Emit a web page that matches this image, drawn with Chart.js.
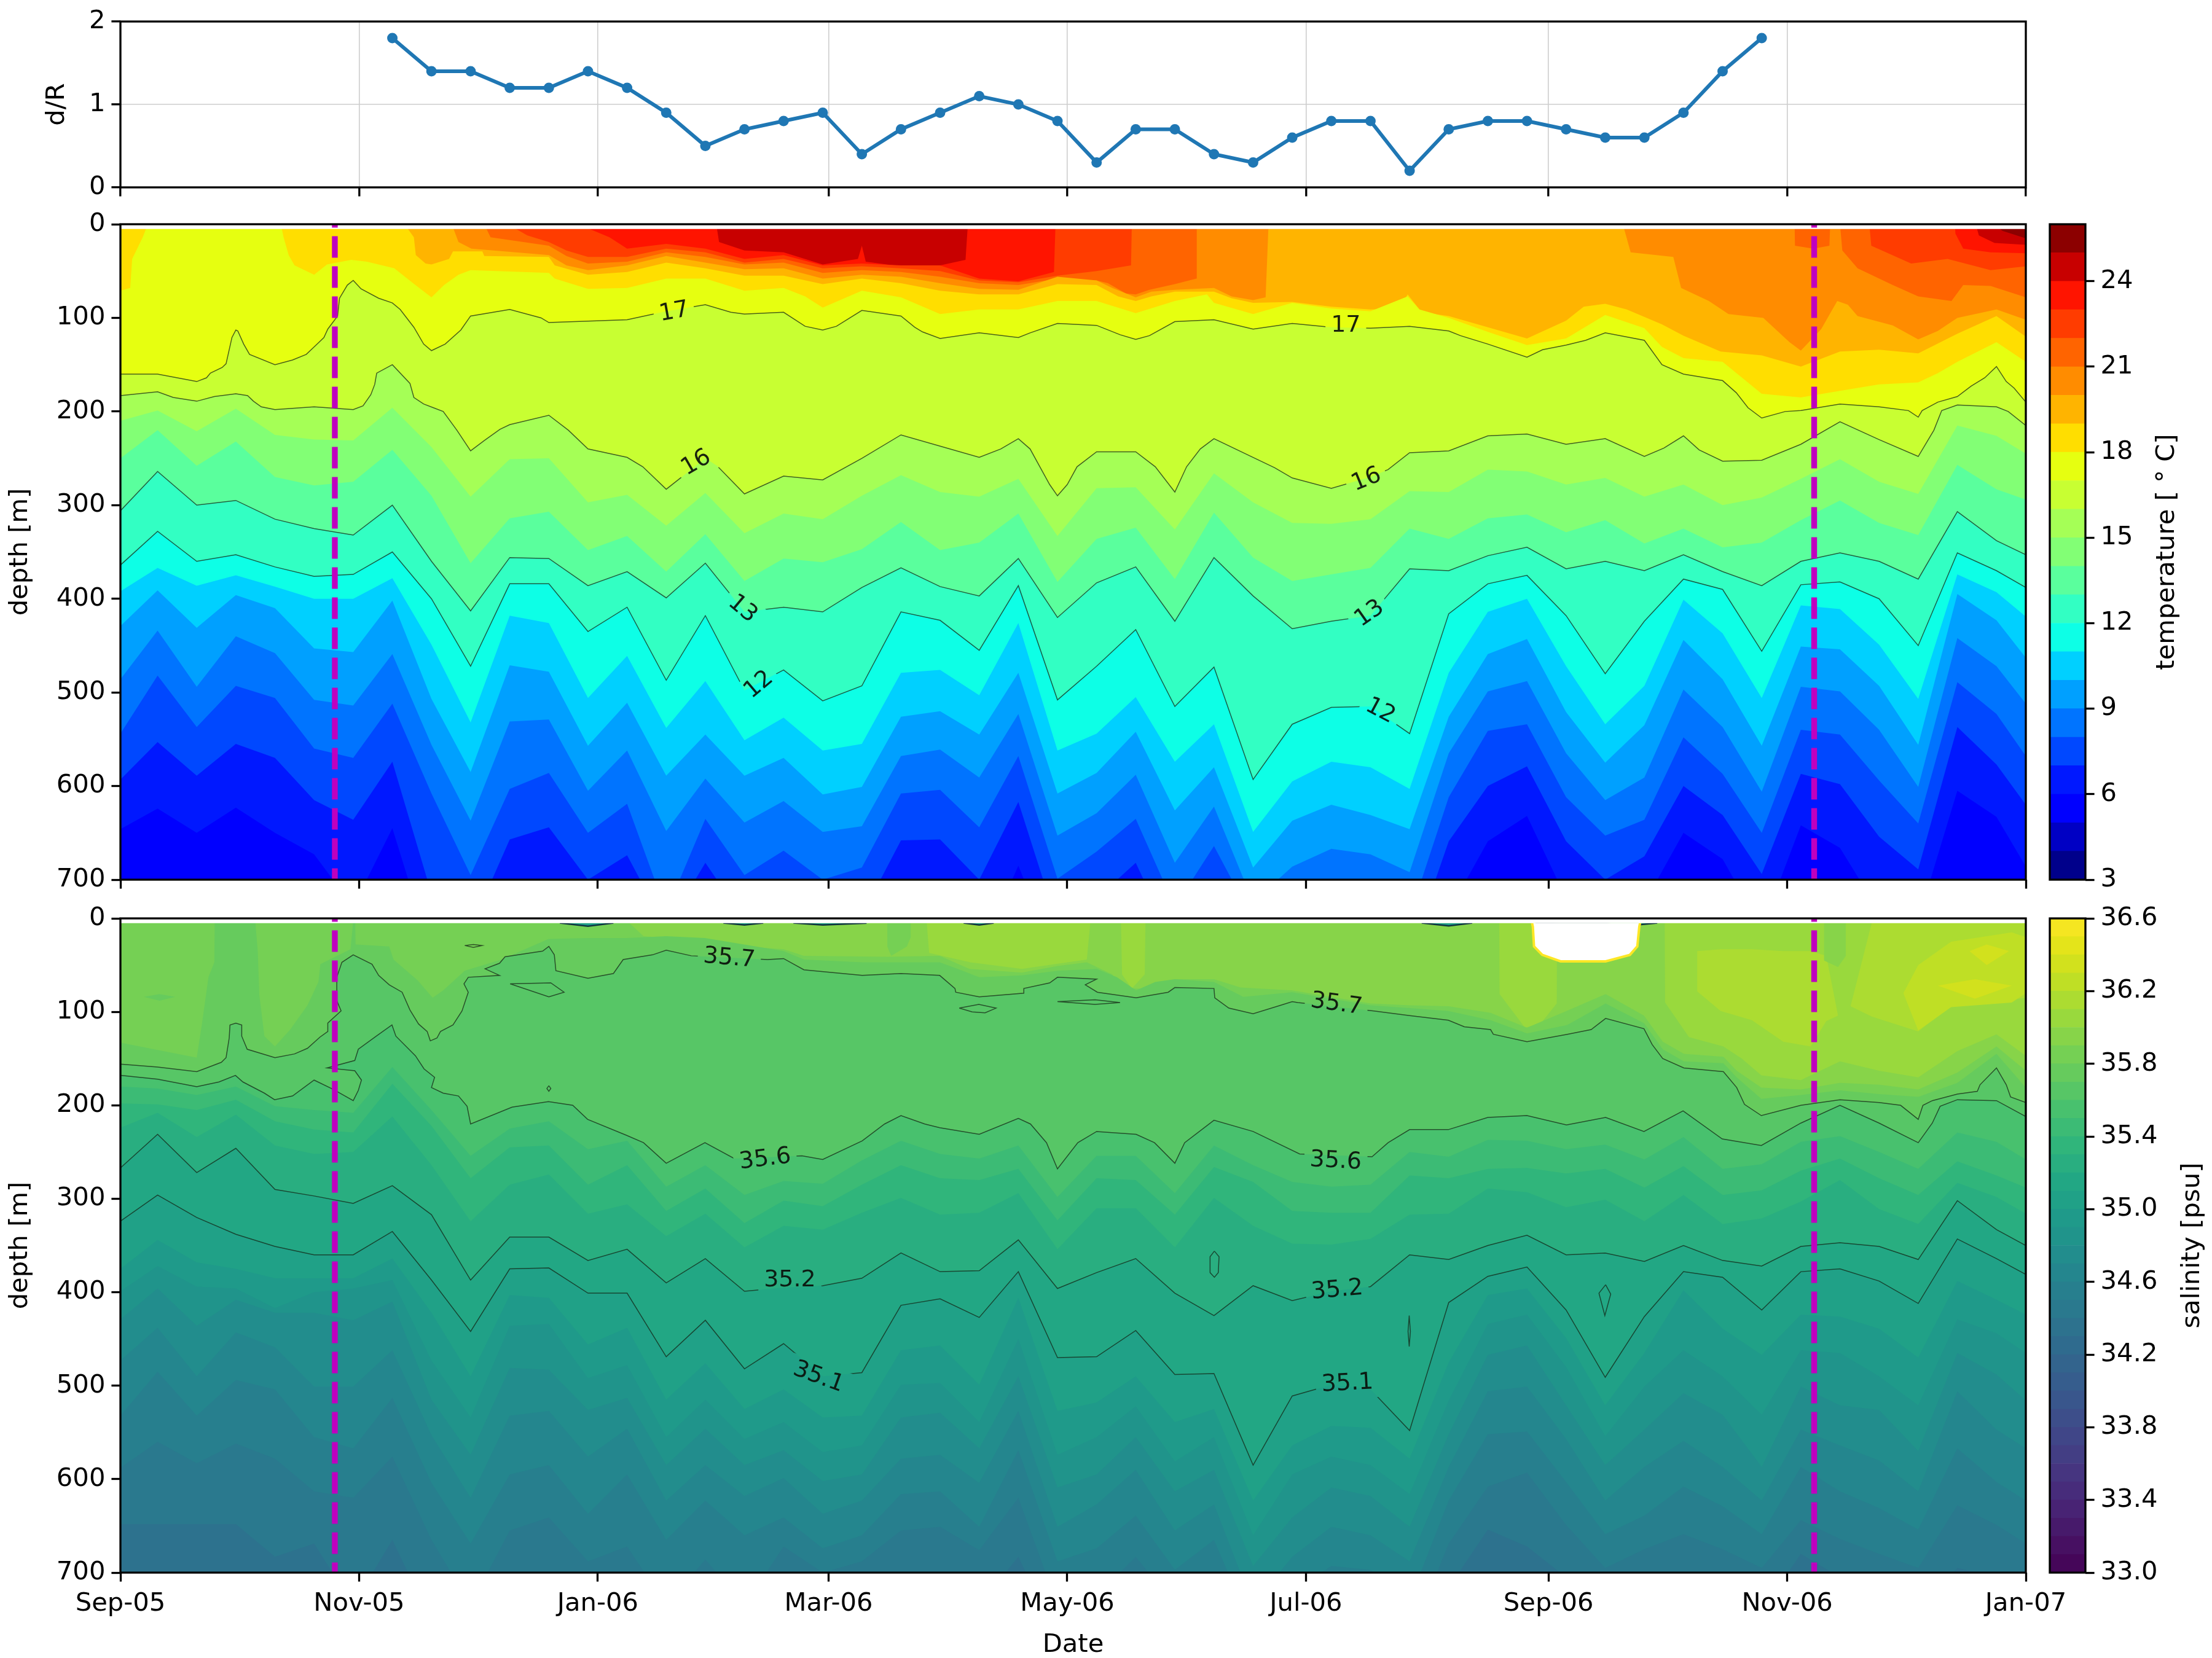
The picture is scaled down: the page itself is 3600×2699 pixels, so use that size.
<!DOCTYPE html>
<html>
<head>
<meta charset="utf-8">
<title>d/R, temperature and salinity sections</title>
<script src="https://cdn.jsdelivr.net/npm/chart.js@4/dist/chart.umd.min.js"></script>
<style>
  html, body { margin: 0; background: #fff; }
  #page { position: relative; width: 3600px; height: 2699px; overflow: hidden; }
  canvas { position: absolute; }
</style>
</head>
<body>
<div id="page">
  <canvas id="drChart" width="3420" height="350" style="left:0px;top:0px"></canvas>
  <canvas id="tempChart" width="3420" height="1150" style="left:0px;top:330px"></canvas>
  <canvas id="salChart" width="3420" height="1243" style="left:0px;top:1460px"></canvas>
  <canvas id="tempBar" width="300" height="1150" style="left:3300px;top:330px"></canvas>
  <canvas id="salBar" width="300" height="1239" style="left:3300px;top:1460px"></canvas>
</div>
<script>
// axis labels, x is days since 1 Sep 2005
const monthDays = [0, 61, 122, 181, 242, 303, 365, 426, 487];
const monthLabels = ['Sep-05', 'Nov-05', 'Jan-06', 'Mar-06', 'May-06', 'Jul-06', 'Sep-06', 'Nov-06', 'Jan-07'];
const markerDays = [54.8, 432.9];
const tempTicks = [3, 6, 9, 12, 15, 18, 21, 24];
const salTicks = [33.0, 33.4, 33.8, 34.2, 34.6, 35.0, 35.4, 35.8, 36.2, 36.6];

// d/R
const drDays = [69.5, 79.5, 89.5, 99.5, 109.5, 119.5, 129.5, 139.5, 149.5, 159.5, 169.5, 179.5, 189.5, 199.5, 209.5, 219.5, 229.5, 239.5, 249.5, 259.5, 269.5, 279.5, 289.5, 299.5, 309.5, 319.5, 329.5, 339.5, 349.5, 359.5, 369.5, 379.5, 389.5, 399.5, 409.5, 419.5];
const drValues = [1.8, 1.4, 1.4, 1.2, 1.2, 1.4, 1.2, 0.9, 0.5, 0.7, 0.8, 0.9, 0.4, 0.7, 0.9, 1.1, 1.0, 0.8, 0.3, 0.7, 0.7, 0.4, 0.3, 0.6, 0.8, 0.8, 0.2, 0.7, 0.8, 0.8, 0.7, 0.6, 0.6, 0.9, 1.4, 1.8];

// profile columns shared by the deep isolines
const columnDays = [0, 9.5, 19.5, 29.5, 39.5, 49.5, 59.5, 69.5, 79.5, 89.5, 99.5, 109.5, 119.5, 129.5, 139.5, 149.5, 159.5, 169.5, 179.5, 189.5, 199.5, 209.5, 219.5, 229.5, 239.5, 249.5, 259.5, 269.5, 279.5, 289.5, 299.5, 309.5, 319.5, 329.5, 339.5, 349.5, 359.5, 369.5, 379.5, 389.5, 399.5, 409.5, 419.5, 429.5, 439.5, 449.5, 459.5, 469.5, 479.5, 487];

// temperature: depth [m] of each isotherm
const temp6 = [646,624,650,623,650,673,729,645,780,830,800,790,830,800,840,810,830,800,820,800,745,745,780,685,790,780,740,830,780,850,840,830,830,840,734,659,632,720,752,725,650,678,752,642,666,734,743,605,633,686];
const temp7 = [593,553,589,555,570,615,636,574,715,752,657,644,700,674,752,682,743,729,752,738,658,657,700,617,748,720,682,771,724,790,780,766,771,780,659,600,579,659,700,675,600,631,694,587,598,654,689,537,577,620];
const temp8 = [544,482,537,493,506,560,570,512,608,695,603,586,650,619,734,635,695,669,700,687,608,604,644,568,699,670,635,729,664,743,729,715,722,739,612,541,534,612,653,636,548,587,650,540,545,594,640,489,523,568];
const temp9 = [486,434,494,440,458,508,514,459,556,637,531,529,605,562,648,592,639,616,649,643,568,561,591,523,653,629,588,682,622,724,686,667,673,692,565,499,488,565,615,591,497,537,606,494,499,540,601,442,472,512];
const temp10 = [429,391,431,396,410,453,457,402,507,585,471,478,557,511,589,545,589,570,609,601,526,520,545,479,608,586,542,626,580,687,637,620,631,646,526,459,443,521,575,535,444,486,557,451,454,493,556,395,423,463];
const temp11 = [392,367,386,375,387,400,400,378,449,532,418,426,506,461,538,488,551,527,562,555,479,476,503,426,562,544,505,574,534,649,595,574,580,603,479,414,400,472,534,493,401,437,506,407,411,449,507,374,393,419];
const temp12 = [364,328,360,353,366,376,374,350,400,472,384,384,435,409,487,418,498,476,509,493,414,423,455,386,508,472,433,515,473,593,534,516,515,544,416,384,375,418,480,424,379,390,456,385,382,400,450,351,370,388];
const temp13 = [306,264,300,295,315,325,332,300,360,413,356,357,386,371,399,362,414,409,414,388,367,387,397,357,420,383,366,424,356,397,432,424,418,368,370,354,345,368,360,370,353,371,386,360,351,360,379,307,338,353];
const temp14 = [250,220,258,232,270,279,275,241,290,362,314,307,348,333,371,331,381,357,361,347,318,348,340,309,382,336,324,379,308,356,381,374,367,325,336,314,310,329,316,341,325,345,340,316,295,319,332,257,283,294];
const temp15 = [210,199,221,197,225,230,231,196,238,291,251,250,297,289,322,287,330,309,315,290,268,286,291,272,333,282,281,326,266,297,319,320,315,285,286,262,264,278,271,291,278,300,292,272,251,275,288,215,226,245];

const temp16Days = [0,9.5,13.5,19.5,24,29.5,32.5,34,36,39.5,49.5,59.5,62,64,65,65.5,69.5,74,75,77.5,80,82.5,86,89.5,93,97,99.5,109.5,114.5,119.5,129.5,133.5,139.5,149.5,152.5,159.5,169.5,179.5,189.5,199.5,209.5,219.5,225,229.5,232.5,235,237.5,239.5,242,244.5,249.5,259.5,264.5,269.5,272.5,276,279.5,289.5,295,299.5,309.5,319.5,324,329.5,339.5,349.5,359.5,369.5,379.5,389.5,394.5,399.5,403.5,409.5,419.5,429.5,439.5,449.5,459.5,463.5,465.5,469.5,479.5,482.5,487];
const temp16Depth = [183,179,185,189,184,181,183,189,195,198,195,198,194,182,171,159,150,170,185,192,196,200,220,242,231,219,214,204,220,240,249,259,283,250,258,288,269,273,250,225,237,249,240,229,240,259,278,290,278,259,243,243,259,286,259,240,229,249,260,271,282,270,262,244,242,226,224,235,229,248,239,226,241,253,252,235,211,230,248,220,199,193,195,200,215];

const temp17Days = [0,9.5,19.5,22,23,26,27,28.5,29.5,30,31.5,33,39.5,44,47.5,49.5,52,53,55.5,56,58,59.5,61.5,66,69.5,71.5,75,77.5,79.5,83,87,89.5,99.5,107.5,109.5,129.5,139.5,149.5,156,159.5,169.5,175,179.5,183,189.5,199.5,203,205,209.5,219.5,229.5,232.5,239.5,249.5,255.5,259.5,263,269.5,279.5,289.5,299.5,309.5,319.5,329.5,339.5,342.5,349.5,359.5,363.5,369.5,374.5,379.5,389.5,394,399.5,409.5,413,416,419.5,425.5,429.5,439.5,449.5,457,459.5,460.5,464.5,469.5,473,476.5,479.5,482,484,487];
const temp17Depth = [160,160,168,164,159,153,149,121,113,114,128,139,150,145,139,131,121,112,98,79,65,60,69,79,84,91,110,128,135,128,113,98,91,100,105,102,93,86,94,96,94,109,113,109,92,98,110,115,122,116,121,116,106,108,118,123,119,104,102,112,106,110,111,109,114,119,128,142,134,129,124,116,124,150,160,167,180,196,207,200,199,192,195,199,206,199,190,184,173,164,152,168,175,190];

const temp18Days = [0,2.5,3,5.7,7,41,41.7,43,44.5,49.5,52.8,59,63,70,75.4,79.5,82.7,86.4,89.5,109.5,111,119.5,129.5,139.5,149.5,159.5,169.5,175,179.5,189.5,199.5,209.5,219.5,229.5,239.5,249.5,259.5,269.5,277.7,279.5,289.5,299.5,309.5,319.5,329,332,339.5,349.5,359.5,369.5,379.5,389.5,394,399.5,409.5,419.5,429.5,439.5,449.5,459.5,464.5,469.5,479.5,487];
const temp18Depth = [71,68,37,14,0,0,14,33,44,54,43,38,40,47,65,78,65,54,49,52,58,69,68,58,58,71,68,77,89,71,78,96,91,91,82,82,95,82,75,84,96,84,90,93,77,91,100,115,129,122,97,111,131,143,147,181,185,178,171,169,159,147,126,147];

const temp19Days = [0,72.6,75,75.5,78,79.5,84,85,92.5,93,109.5,111,119.5,129.5,139.5,149.5,159.5,169.5,179.5,189.5,199.5,209.5,219.5,229.5,239.5,249.5,255,259.5,263.5,269.5,279.5,284,289.5,299.5,309.5,319.5,327,329,332.6,339.5,349.5,359.5,369.5,374,379.5,385,394,399.5,409,419.5,429.5,439.5,449.5,459.5,469.5,479.5,487];
const temp19Depth = [0,0,14,33,42,43,37,29,29,34,35,44,54,51,41,47,55,55,64,58,63,71,75,75,64,65,77,82,77,72,72,79,84,83,88,91,90,75,94,98,110,122,103,88,85,91,107,119,136,140,152,136,134,138,117,98,120];

const temp20Days = [0,84.7,86.4,89.7,109.5,114,119.5,129.5,139.5,149.5,159.5,169.5,179.5,189.5,199.5,209.5,219.5,229.5,239.5,249.5,253.5,259.5,263.5,269.5,279.5,284,289.5,292.7,293.4,293.5,384,386,396.9,398.9,406,411,419.9,426.6,429.5,434.7,438.8,441.5,444,453,459.5,464.5,469.5,479.5,487];
const temp20Depth = [0,0,19,26,33,44,49,44,34,41,48,47,58,54,56,63,69,70,56,60,68,78,72,70,68,77,81,78,5,0,0,30,35,68,82,96,100,126,135,112,82,86,98,108,123,114,100,91,102];

const temp21Days = [0,93,94.6,109.5,114,119.5,129.5,139.5,149.5,159.5,169.5,179.5,189.5,199.5,209.5,219.5,229.5,239.5,249.5,252.4,257,259.5,263,269.5,275,275.1,427.9,428,432.7,436.8,437,439.5,440.1,444,453,459.5,468,471,478,487];
const temp21Depth = [0,0,14,23,34,42,40,30,35,43,41,52,49,51,56,63,65,58,60,63,74,75,70,64,58,0,0,23,26,23,0,0,28,47,65,77,82,65,66,78];

const temp22Days = [0,99,104,109.5,114,119.5,129.5,139.5,149.5,159.5,169.5,179.5,189.5,199.5,209.5,219.5,229.5,239.5,249.5,258.3,258.5,447,447.5,457.7,467,478,487];
const temp22Depth = [0,0,12,19,28,35,35,26,30,41,37,47,45,47,50,60,62,55,50,44,0,0,23,42,37,49,45];

const temp23Days = [0,117,125,129.5,139.5,149.5,159.5,169.5,179.5,189.5,199.5,209.5,219.5,229.5,238.6,239,468.9,469,471,478,487];
const temp23Depth = [0,0,14,26,21,26,37,33,44,42,44,44,58,61,51,0,0,10,26,30,31];

const temp24Days = [0,152.3,153,159.5,169.5,179.5,188.5,189.5,190.5,199.5,209.5,216,216.6,474.2,475,479,487];
const temp24Depth = [0,0,19,28,30,43,37,23,40,45,44,38,0,0,12,20,22];

const temp25Days = [0,479,481,487];
const temp25Depth = [0,0,7,15];

// temperature contour labels
const tempLabelText = ['17', '16', '13', '12', '17', '16', '13', '12'];
const tempLabelDay = [141.5, 147.2, 159, 163.2, 313.2, 318.5, 319.3, 322];
const tempLabelDepth = [94, 255, 411, 492, 108, 273, 416, 520];
const tempLabelAngle = [-10, -30, 40, -40, 0, -22, -35, 28];

// salinity: depth [m] of each isohaline
const sal344 = [648,648,648,648,683,669,735,665,753,781,735,716,744,735,772,739,772,735,753,744,725,721,735,683,772,758,735,781,753,819,795,781,786,805,716,654,672,705,736,726,705,726,741,680,705,731,741,695,705,716];
const sal345 = [588,560,583,562,578,613,620,576,665,735,655,641,688,672,735,686,735,672,700,688,655,651,676,620,735,725,683,735,716,791,763,744,753,772,669,608,593,649,695,675,659,675,695,644,664,680,695,628,649,669];
const sal346 = [532,485,532,494,504,555,567,513,604,669,595,585,637,595,665,623,660,641,674,660,616,613,651,569,688,674,639,697,665,763,721,693,697,730,623,552,549,603,659,639,608,629,659,587,613,631,654,567,603,623];
const sal347 = [473,438,490,443,459,501,501,462,553,620,532,527,576,546,623,585,618,599,637,623,578,574,604,527,651,627,590,655,627,735,683,651,660,688,587,506,501,557,623,587,559,587,623,547,564,580,613,506,547,567];
const sal348 = [429,396,436,408,422,422,430,410,515,574,481,483,526,513,585,546,585,569,602,595,534,529,567,490,609,595,555,613,590,693,641,609,618,651,552,467,457,521,585,547,508,531,587,501,521,526,570,465,488,516];
const sal349 = [399,372,394,396,417,400,396,387,473,534,436,434,492,478,555,515,557,539,571,564,499,497,539,450,574,555,522,581,555,660,595,576,585,616,516,434,424,480,554,501,462,490,531,462,465,490,521,429,444,465];
const sal350 = [375,344,368,375,385,385,385,364,422,490,403,406,456,438,515,476,525,504,534,532,462,457,499,406,527,518,490,539,525,623,564,543,545,578,475,403,396,449,521,465,398,439,467,424,426,439,470,388,408,424];
const sal351 = [324,296,320,338,351,360,360,335,387,442,375,374,401,401,469,430,482,455,490,486,414,407,427,378,470,469,441,488,487,585,511,499,504,548,411,383,373,419,491,426,378,384,419,378,375,388,412,343,364,381];
const sal352 = [267,231,272,246,290,297,305,286,317,387,341,341,366,354,390,364,399,395,393,385,358,378,377,344,396,379,364,401,425,393,409,399,394,360,365,350,339,360,358,367,350,366,372,351,347,351,365,302,333,350];
const sal353 = [224,208,234,210,243,252,250,212,264,324,285,274,316,306,340,316,352,329,333,315,299,317,315,294,354,310,310,352,299,329,348,349,343,317,316,289,293,309,301,324,296,327,321,303,280,311,327,283,298,316];
const sal354 = [198,199,205,194,217,226,229,177,222,278,245,243,285,264,313,289,326,302,308,285,264,278,280,268,323,278,280,317,266,282,313,315,315,275,278,268,267,273,268,288,265,296,291,270,257,278,296,260,275,288];
const sal355 = [180,182,189,180,201,205,208,159,205,254,225,217,247,238,287,264,296,281,284,259,238,252,257,243,298,254,254,294,243,264,282,287,285,250,255,237,238,247,242,258,234,268,263,239,233,250,268,229,239,258];

const sal356Days = [0,9.5,19.5,25.2,29.4,31.3,36.8,39.4,44,49.5,54.4,59.5,60.8,61.6,59.9,52.8,59.9,60.8,65.4,69.4,70.4,75.4,77.6,80.3,79.5,82.5,86.4,88.6,89.5,100.1,109.4,115.6,119.4,129.3,133.7,139.5,149.4,156.9,174.2,179.5,189.6,195.3,199.5,205.6,209.4,219.5,229.5,232.6,236.7,239.5,244.7,249.5,259.6,264.3,269.5,272,279.5,289.5,301.4,319.9,324,329.5,339.4,349.5,359.5,369.6,379.6,389.4,399.4,409.4,419.4,429.5,439.5,449.5,459.5,463.1,465.1,469.5,479.5,487];
const sal356Depth = [168,172,180,175,168,175,187,194,190,173,183,195,184,173,163,160,152,140,126,114,126,147,161,170,181,187,190,201,220,202,196,200,215,232,240,262,240,257,254,258,238,220,211,220,224,231,214,220,240,268,240,228,231,240,262,240,216,228,252,255,240,226,226,213,211,221,213,228,206,236,243,219,200,219,240,219,201,194,195,212];

const sal357Days = [0,9.5,19.5,22,25.8,27,27.8,28,29.5,31,31,32.4,39.5,44.5,47.8,51,53,53,56.4,55.3,55.3,56.6,59.5,64.3,66,68.7,72,74,76.2,78.4,79.2,80.9,81.8,85,87.3,88.9,87.8,88.9,96.9,93.2,96.9,98.3,107.9,109.5,110.9,111.3,119.5,126,128.5,136,139.5,145.9,165.4,169.5,174.7,189.6,199.5,209.4,213.3,213.5,219.5,230.9,230.9,237.5,239.5,249.5,246.6,249.7,259.6,267.8,269.5,279.5,279.7,283.3,289.5,296.5,299.5,300.9,320.4,329.5,339.4,343.5,350.2,350.9,359.5,369.8,375.9,379.6,389.4,391.5,394.2,399.6,409.7,413.1,415.1,419.4,429.5,439.5,449.5,455,459.5,460.7,463.1,469.5,474.6,475.3,479.5,482,483.1,487];
const sal357Depth = [156,159,164,160,154,149,128,114,112,114,126,140,149,145,139,127,121,112,99,88,63,47,39,49,61,71,79,98,113,121,131,128,121,114,99,79,70,63,61,54,48,41,35,30,39,56,64,59,44,39,34,40,44,43,55,61,59,61,75,79,84,80,75,69,63,65,71,79,85,79,74,75,85,96,102,93,89,90,99,104,109,116,119,124,132,124,119,107,118,135,150,160,164,181,199,211,200,194,197,200,215,200,195,188,185,178,160,178,191,197];

const sal358Days = [0,19.5,20.8,22.5,24,24.1,34.4,35.1,35.5,36.8,39.5,43.4,47.8,50.6,51.1,58.8,59.4,59.6,60,60.1,68.7,69.8,75.9,79.8,82.5,88,97.4,109.4,119.4,129.4,139.5,149.4,159.4,169.5,174.7,189.6,209.4,214,219.5,230.4,239.5,249.5,254.7,259.6,264.5,269.5,279.5,287,299.5,319.5,329.5,339.4,350.2,359.5,369.8,379.6,389.4,394.2,399.6,409.7,413.1,419.4,429.5,439.5,449.5,459.5,469.5,479.5,487];
const sal358Depth = [133,149,114,63,47,0,0,35,82,126,137,119,93,68,49,33,7,0,0,28,30,44,66,85,77,56,44,22,21,21,19,21,28,35,44,47,47,54,63,61,56,54,63,77,68,65,68,84,79,93,96,99,109,123,114,91,112,140,153,155,170,193,189,184,188,191,176,145,181];

const sal359Days = [0,128.8,133.7,139.5,149.4,159.4,169.5,174.7,196.2,209.4,217,230.4,239.5,247,253.5,256.3,261.8,269.5,279.5,286.3,299.5,319.5,329.5,339.4,350.2,359.5,369.6,379.6,389.4,394.2,399.6,409.7,413.1,419.4,429.5,439.5,449.5,459.5,469.5,479.5,487];
const sal359Depth = [0,0,19,21,26,30,33,40,41,40,54,58,51,47,60,75,75,65,65,74,77,91,93,94,101,117,99,81,104,132,145,148,163,181,183,176,178,183,165,137,163];

const sal360Days = [0,206,206.7,217.2,230.4,247,248,255.7,256,258.5,261.8,262,352.4,352.5,359,363.1,367.1,367.2,394.7,394.8,400.9,409.7,414.4,419.4,429.5,439.5,449.5,459.5,469.5,479.5,487];
const sal360Depth = [0,0,37,47,54,44,0,0,60,75,60,0,0,81,117,112,91,0,0,90,127,137,150,168,173,153,163,170,142,124,147];

// patches near the surface: level of the colour band, days, top and bottom depth
const patchA = { band: 36.1, days: [403, 409, 417, 425, 432, 436, 439], top: [35, 33, 33, 35, 35, 40, 104], bottom: [78, 99, 109, 132, 137, 110, 104] };
const patchB = { band: 36.1, days: [442.2, 447.6, 459.5, 469.5, 479.5, 487], top: [94, 5, 5, 5, 5, 5], bottom: [94, 105, 121, 89, 89, 85] };
const patchC = { band: 36.2, days: [455.7, 459.5, 467.9, 483.4, 487], top: [80, 50, 25, 15, 20], bottom: [80, 120, 95, 90, 80] };
const patchD = { band: 36.3, days: [472.6, 477, 482.7], top: [35, 28, 35], bottom: [35, 50, 35] };
const patchE = { band: 36.3, days: [464.5, 474, 483.4], top: [72, 65, 72], bottom: [72, 86, 72] };
const patchF = { band: 35.7, days: [6, 10, 14], top: [84, 81, 84], bottom: [84, 88, 84] };
const patchG = { band: 35.8, days: [196, 197, 201, 202], top: [5, 5, 5, 5], bottom: [30, 40, 30, 20] };
const patchH = { band: 35.9, days: [435.4, 439, 441], top: [5, 5, 5], bottom: [45, 52, 40] };

// thin fresher lenses at the surface
const lensA = { days: [112.3, 119.5, 126], bottom: [5, 8.4, 5] };
const lensB = { days: [154.1, 159.5, 164.3], bottom: [5, 7, 5] };
const lensC = { days: [172, 179.5, 190.7], bottom: [5, 7, 5] };
const lensD = { days: [215.5, 219.5, 223.2], bottom: [5, 7, 5] };
const lensE = { days: [332.6, 339.5, 345.5], bottom: [5, 8, 5] };
const lensF = { days: [361.7, 368, 380, 385, 392.8], bottom: [5, 5.5, 5.5, 8, 5] };

// closed contours
const islandA = { days: [99.6, 110, 113.4, 109.5, 99.6], depth: [70, 69, 79, 84, 70] };
const islandB = { days: [88, 90.2, 92.4, 90.2, 88], depth: [29, 28, 29, 31, 29] };
const islandC = { days: [109.5, 110, 109.5, 109, 109.5], depth: [179, 182, 185, 182, 179] };
const islandD = { days: [214.4, 219.4, 223.8, 221, 217.7, 214.4], depth: [96, 92, 96, 101, 100, 96] };
const islandE = { days: [239.5, 249.1, 255.5, 249.1, 239.5], depth: [89, 87, 90, 92, 89] };
const islandF = { days: [279.6, 280.8, 280.6, 279.6, 278.5, 278.5, 279.6], depth: [356, 362, 379, 384, 379, 362, 356] };
const islandG = { days: [379.6, 380.9, 379.4, 377.9, 379.6], depth: [392, 402, 425, 401, 392] };
const islandH = { days: [329.4, 329.7, 329.4, 329.1, 329.4], depth: [425, 442, 458, 442, 425] };

// no-data hole in the salinity field
const holeDays = [360.8, 361, 361.3, 363.4, 368.1, 379.6, 385.8, 387.7, 388.2, 388.4];
const holeDepth = [5, 9, 30, 39, 46, 46, 39, 30, 9, 5];

// salinity contour labels
const salLabelText = ['35.7', '35.6', '35.7', '35.6', '35.2', '35.2', '35.1', '35.1'];
const salLabelDay = [155.6, 164.8, 310.8, 310.6, 171.1, 311, 178.4, 313.6];
const salLabelDepth = [43, 258, 92, 260, 387, 398, 491, 498];
const salLabelAngle = [5, -7, 8, 3, 0, -5, 20, -3];

// colours of the 1 degree bands, 3-4 up to 25-26
const jetBands = ['#00008b', '#0000c4', '#0000ff', '#0018ff', '#0048ff', '#0074ff', '#00a0ff', '#00d0ff', '#0dffe6', '#32ffc3', '#5aff9d', '#82ff75', '#a5ff56', '#c8ff32', '#e6ff10', '#ffde00', '#ffb400', '#ff8c00', '#ff6400', '#ff3c00', '#ff1400', '#c80000', '#8c0000'];
const viridisStops = ['#440154', '#471365', '#482475', '#463480', '#414487', '#3b528b', '#355f8d', '#2f6c8e', '#2a788e', '#25848e', '#21918c', '#1e9c89', '#22a884', '#2fb47c', '#44bf70', '#5ec962', '#7ad151', '#9bd93c', '#bddf26', '#dfe318', '#fde725'];

const FONT = 'DejaVu Sans';
const LINE_W = 3.3;
const CONTOUR_COLOR = 'rgba(20,35,20,0.72)';
Chart.defaults.font.family = FONT;
Chart.defaults.font.size = 41.7;
Chart.defaults.color = '#000';

function hex(c) {
  return [1, 3, 5].map(i => parseInt(c.slice(i, i + 2), 16));
}
// viridis colour of the band starting at salinity s
function salColor(s) {
  const t = (Math.round((s - 33) * 10) + 0.5) / 36 * (viridisStops.length - 1);
  const i = Math.min(Math.floor(t), viridisStops.length - 2);
  const a = hex(viridisStops[i]), b = hex(viridisStops[i + 1]);
  const m = a.map((v, k) => Math.round(v + (b[k] - v) * (t - i)));
  return `rgb(${m[0]},${m[1]},${m[2]})`;
}
const tempColor = t => jetBands[t - 3];

const pts = (xs, ys) => xs.map((x, i) => ({ x, y: ys[i] }));
const band = (days, depth, color) => ({ data: pts(days, depth), borderWidth: 0, pointRadius: 0, fill: { value: 700 }, backgroundColor: color });
const contour = (days, depth) => ({ data: pts(days, depth), contour: true, borderColor: CONTOUR_COLOR, borderWidth: 1.5, pointRadius: 0, fill: false });
const dashed = day => ({ data: pts([day, day], [0, 700]), borderColor: '#bf00bf', borderWidth: 9.4, borderDash: [35, 14], borderDashOffset: 29.5, pointRadius: 0, fill: false });
const topStrip = () => ({ data: pts([0, 487], [5, 5]), borderWidth: 0, pointRadius: 0, fill: { value: 0 }, backgroundColor: '#fff' });
const island = p => ({ data: pts(p.days, p.depth), borderColor: CONTOUR_COLOR, borderWidth: 1.5, pointRadius: 0, fill: false });

// painter order: what is pushed first ends up underneath
function temperatureLayers() {
  const flat = columnDays.map(() => 0);
  const layers = [
    band(columnDays, flat, tempColor(25)),
    band(temp25Days, temp25Depth, tempColor(24)),
    band(temp24Days, temp24Depth, tempColor(23)),
    band(temp23Days, temp23Depth, tempColor(22)),
    band(temp22Days, temp22Depth, tempColor(21)),
    band(temp21Days, temp21Depth, tempColor(20)),
    band(temp20Days, temp20Depth, tempColor(19)),
    band(temp19Days, temp19Depth, tempColor(18)),
    band(temp18Days, temp18Depth, tempColor(17)),
    band(temp17Days, temp17Depth, tempColor(16)),
    band(temp16Days, temp16Depth, tempColor(15)),
    band(columnDays, temp15, tempColor(14)),
    band(columnDays, temp14, tempColor(13)),
    band(columnDays, temp13, tempColor(12)),
    band(columnDays, temp12, tempColor(11)),
    band(columnDays, temp11, tempColor(10)),
    band(columnDays, temp10, tempColor(9)),
    band(columnDays, temp9, tempColor(8)),
    band(columnDays, temp8, tempColor(7)),
    band(columnDays, temp7, tempColor(6)),
    band(columnDays, temp6, tempColor(5)),
    contour(temp17Days, temp17Depth),
    contour(temp16Days, temp16Depth),
    contour(columnDays, temp13),
    contour(columnDays, temp12),
    topStrip(),
    dashed(markerDays[0]),
    dashed(markerDays[1])
  ];
  return layers.reverse();
}

function salinityLayers() {
  const flat = columnDays.map(() => 0);
  const layers = [
    band(columnDays, flat, salColor(36.0)),
    band(sal360Days, sal360Depth, salColor(35.9)),
    band(sal359Days, sal359Depth, salColor(35.8)),
    band(sal358Days, sal358Depth, salColor(35.7)),
    band(sal357Days, sal357Depth, salColor(35.6)),
    band(sal356Days, sal356Depth, salColor(35.5)),
    band(columnDays, sal355, salColor(35.4)),
    band(columnDays, sal354, salColor(35.3)),
    band(columnDays, sal353, salColor(35.2)),
    band(columnDays, sal352, salColor(35.1)),
    band(columnDays, sal351, salColor(35.0)),
    band(columnDays, sal350, salColor(34.9)),
    band(columnDays, sal349, salColor(34.8)),
    band(columnDays, sal348, salColor(34.7)),
    band(columnDays, sal347, salColor(34.6)),
    band(columnDays, sal346, salColor(34.5)),
    band(columnDays, sal345, salColor(34.4)),
    band(columnDays, sal344, salColor(34.3))
  ];
  [patchA, patchB, patchC, patchD, patchE, patchF, patchG, patchH].forEach(p => {
    layers.push({ data: pts(p.days, p.top), borderWidth: 0, pointRadius: 0, fill: false });
    // '+1' points at the top edge once the list is reversed
    layers.push({ data: pts(p.days, p.bottom), borderWidth: 0, pointRadius: 0, fill: '+1', backgroundColor: salColor(p.band) });
  });
  [lensA, lensB, lensC, lensD, lensE, lensF].forEach(l => {
    layers.push({ data: pts(l.days, l.bottom), borderColor: 'rgba(10,40,60,0.9)', borderWidth: 2.5, pointRadius: 0, fill: { value: 5 }, backgroundColor: '#1f9e89' });
  });
  [islandA, islandB, islandC, islandD, islandE, islandF, islandG, islandH].forEach(p => layers.push(island(p)));
  layers.push(contour(sal357Days, sal357Depth), contour(sal356Days, sal356Depth), contour(columnDays, sal352), contour(columnDays, sal351));
  layers.push({ data: pts(holeDays, holeDepth), borderColor: '#fde725', borderWidth: 4, pointRadius: 0, fill: { value: 5 }, backgroundColor: '#fff' });
  layers.push(topStrip(), dashed(markerDays[0]), dashed(markerDays[1]));
  return layers.reverse();
}

const framePlugin = {
  id: 'frame',
  afterDraw(chart) {
    const { ctx, chartArea: a } = chart;
    ctx.save();
    ctx.strokeStyle = '#000';
    ctx.lineWidth = LINE_W;
    ctx.strokeRect(a.left, a.top, a.width, a.height);
    ctx.restore();
  }
};

function labelPlugin(text, days, depths, angles) {
  const corners = (chart, i) => {
    const { ctx, scales: { x, y } } = chart;
    ctx.save();
    ctx.font = `38px "${FONT}"`;
    const w = ctx.measureText(text[i]).width / 2 + 9;
    ctx.restore();
    const h = 24, r = angles[i] * Math.PI / 180;
    const cx = x.getPixelForValue(days[i]), cy = y.getPixelForValue(depths[i]);
    return [[-w, -h], [w, -h], [w, h], [-w, h]].map(([u, v]) => [cx + u * Math.cos(r) - v * Math.sin(r), cy + u * Math.sin(r) + v * Math.cos(r)]);
  };
  return {
    id: 'contourLabels',
    // cut a gap in the contour lines under each label
    beforeDatasetDraw(chart, args) {
      if (!chart.data.datasets[args.index].contour) return;
      const { ctx, chartArea: a } = chart;
      ctx.save();
      ctx.beginPath();
      ctx.rect(a.left, a.top, a.width, a.height);
      text.forEach((_, i) => {
        corners(chart, i).forEach(([px, py], k) => (k ? ctx.lineTo(px, py) : ctx.moveTo(px, py)));
        ctx.closePath();
      });
      ctx.clip('evenodd');
    },
    afterDatasetDraw(chart, args) {
      if (chart.data.datasets[args.index].contour) chart.ctx.restore();
    },
    afterDatasetsDraw(chart) {
      const { ctx, scales: { x, y } } = chart;
      text.forEach((t, i) => {
        ctx.save();
        ctx.translate(x.getPixelForValue(days[i]), y.getPixelForValue(depths[i]));
        ctx.rotate(angles[i] * Math.PI / 180);
        ctx.font = `38px "${FONT}"`;
        ctx.fillStyle = 'rgba(10,15,10,0.92)';
        ctx.textAlign = 'center';
        ctx.textBaseline = 'middle';
        ctx.fillText(t, 0, 0);
        ctx.restore();
      });
    }
  };
}

const tickGrid = { drawOnChartArea: false, tickLength: 14.6, tickWidth: LINE_W, tickColor: '#000' };

function xAxis(showLabels, height, title) {
  return {
    type: 'linear', min: 0, max: 487,
    afterBuildTicks: s => { s.ticks = monthDays.map(value => ({ value })); },
    afterFit: s => { s.height = height; },
    grid: Object.assign({}, tickGrid),
    border: { display: false },
    ticks: { display: showLabels, autoSkip: false, maxRotation: 0, padding: 12, callback: (v, i) => monthLabels[i] },
    title: title ? { display: true, text: title, padding: 0 } : { display: false }
  };
}

function yAxis(title, min, max, step, titlePad) {
  return {
    min, max,
    reverse: title === 'depth [m]',
    afterFit: s => { s.width = 196; },
    grid: Object.assign({}, tickGrid),
    border: { display: false },
    ticks: { stepSize: step, padding: 10, autoSkip: false },
    title: { display: true, text: title, padding: { top: titlePad, bottom: 0 } }
  };
}

function baseOptions(paddingTop, scales) {
  return {
    responsive: false,
    animation: false,
    events: [],
    layout: { padding: { top: paddingTop, left: 0, right: 123, bottom: 0 } },
    plugins: { legend: { display: false }, tooltip: { enabled: false } },
    elements: { line: { tension: 0 } },
    scales
  };
}

// d/R
const drOptions = baseOptions(30, { x: xAxis(false, 45), y: yAxis('d/R', 0, 2, 1, 68) });
['x', 'y'].forEach(k => {
  drOptions.scales[k].grid = Object.assign({}, tickGrid, { drawOnChartArea: true, color: '#cdcdcd', lineWidth: 1.6 });
});
new Chart(document.getElementById('drChart'), {
  type: 'line',
  data: { datasets: [{ data: pts(drDays, drValues), borderColor: '#1f77b4', backgroundColor: '#1f77b4', borderWidth: 6, pointRadius: 8.5, pointBorderWidth: 0 }] },
  options: drOptions,
  plugins: [framePlugin]
});

// temperature
new Chart(document.getElementById('tempChart'), {
  type: 'line',
  data: { datasets: temperatureLayers() },
  options: baseOptions(30.5, { x: xAxis(false, 48), y: yAxis('depth [m]', 0, 700, 100, 8) }),
  plugins: [labelPlugin(tempLabelText, tempLabelDay, tempLabelDepth, tempLabelAngle), framePlugin]
});

// salinity
new Chart(document.getElementById('salChart'), {
  type: 'line',
  data: { datasets: salinityLayers() },
  options: baseOptions(27.5, { x: xAxis(true, 143, 'Date'), y: yAxis('depth [m]', 0, 700, 100, 8) }),
  plugins: [labelPlugin(salLabelText, salLabelDay, salLabelDepth, salLabelAngle), framePlugin]
});

// colour bars
function colorBar(id, levels, colorOf, ticks, decimals, top, plotH, title, titleX) {
  const datasets = levels.slice(0, -1).map((lo, i) => ({
    data: [[lo, levels[i + 1]]],
    backgroundColor: colorOf(lo),
    borderWidth: 0,
    barPercentage: 1,
    categoryPercentage: 1,
    grouped: false
  }));
  const canvas = document.getElementById(id);
  new Chart(canvas, {
    type: 'bar',
    data: { labels: [''], datasets },
    options: {
      responsive: false,
      animation: false,
      events: [],
      layout: { padding: { top, left: 36, right: 0, bottom: canvas.height - top - plotH } },
      plugins: { legend: { display: false }, tooltip: { enabled: false } },
      scales: {
        x: { display: false },
        y: {
          position: 'right',
          min: levels[0], max: levels[levels.length - 1],
          afterBuildTicks: s => { s.ticks = ticks.map(value => ({ value })); },
          afterFit: s => { s.width = 206; },
          grid: Object.assign({}, tickGrid),
          border: { display: false },
          ticks: { padding: 10, autoSkip: false, callback: v => v.toFixed(decimals) }
        }
      }
    },
    plugins: [framePlugin, {
      id: 'barTitle',
      afterDraw(chart) {
        const { ctx, chartArea: a } = chart;
        ctx.save();
        ctx.translate(titleX, (a.top + a.bottom) / 2);
        ctx.rotate(-Math.PI / 2);
        ctx.font = `41.7px "${FONT}"`;
        ctx.fillStyle = '#000';
        ctx.textAlign = 'center';
        ctx.textBaseline = 'middle';
        ctx.fillText(title, 0, 0);
        ctx.restore();
      }
    }]
  });
}

const tempLevels = [3, 4, 5, 6, 7, 8, 9, 10, 11, 12, 13, 14, 15, 16, 17, 18, 19, 20, 21, 22, 23, 24, 25, 26];
const salLevels = [33.0, 33.1, 33.2, 33.3, 33.4, 33.5, 33.6, 33.7, 33.8, 33.9, 34.0, 34.1, 34.2, 34.3, 34.4, 34.5, 34.6, 34.7, 34.8, 34.9, 35.0, 35.1, 35.2, 35.3, 35.4, 35.5, 35.6, 35.7, 35.8, 35.9, 36.0, 36.1, 36.2, 36.3, 36.4, 36.5, 36.6];
colorBar('tempBar', tempLevels, tempColor, tempTicks, 0, 30, 1072, 'temperature [ ° C]', 227);
colorBar('salBar', salLevels, salColor, salTicks, 1, 28, 1072, 'salinity [psu]', 268);
</script>
</body>
</html>
